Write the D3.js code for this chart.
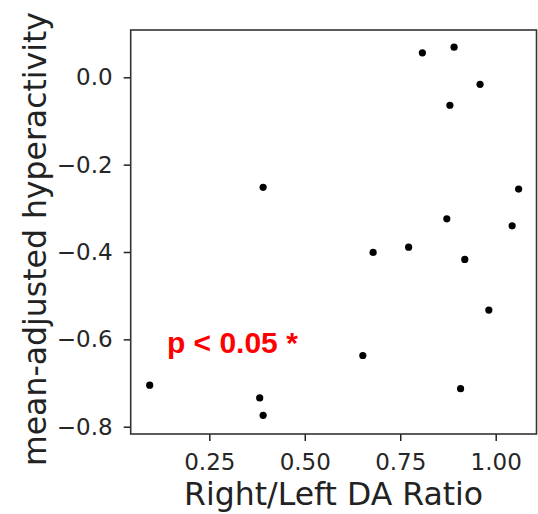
<!DOCTYPE html>
<html lang="en">
<head>
<meta charset="utf-8">
<title>Right/Left DA Ratio vs hyperactivity</title>
<script src="https://cdn.jsdelivr.net/npm/d3@7"></script>
<style>
  body { margin: 0; background: #fff; }
  text { font-family: "DejaVu Sans", sans-serif; }
</style>
</head>
<body>
<script>
// data
var ratio = [0.808, 0.891, 0.959, 0.880, 0.391, 1.060, 0.872, 1.043, 0.772,
             0.679, 0.919, 0.982, 0.652, 0.094, 0.908, 0.382, 0.391];
var hyper = [0.056, 0.069, -0.016, -0.064, -0.252, -0.256, -0.324, -0.340, -0.389,
             -0.401, -0.417, -0.533, -0.637, -0.705, -0.713, -0.734, -0.774];
var xTicks = [0.25, 0.50, 0.75, 1.00];
var yTicks = [0.0, -0.2, -0.4, -0.6, -0.8];
var note = "p < 0.05 *";

var W = 538, H = 514;
var margin = {top: 30, right: 1.5, bottom: 80, left: 130.7};
var w = W - margin.left - margin.right;
var h = H - margin.top - margin.bottom;

var svg = d3.select("body").append("svg")
    .attr("width", W)
    .attr("height", H);

var g = svg.append("g")
    .attr("transform", "translate(" + margin.left + "," + margin.top + ")");

var x = d3.scaleLinear().domain([0.0442, 1.1068]).range([0, w]);
var y = d3.scaleLinear().domain([-0.8167, 0.1083]).range([h, 0]);

var minus = function(s) { return s.replace("-", "\u2212"); };

// x axis
var xAxis = g.append("g")
    .attr("transform", "translate(0," + h + ")")
    .call(d3.axisBottom(x).tickValues(xTicks).tickFormat(d3.format(".2f"))
          .tickSize(7).tickPadding(12.5));
// y axis
var yAxis = g.append("g")
    .call(d3.axisLeft(y).tickValues(yTicks)
          .tickFormat(function(d) { return minus(d3.format(".1f")(d)); })
          .tickSize(7).tickPadding(11));

[xAxis, yAxis].forEach(function(a) {
  a.select(".domain").remove();
  a.selectAll("line").attr("stroke", "#222").attr("stroke-width", 1.5);
  a.selectAll("text").attr("fill", "#262626")
    .style("font-size", "23px").style("font-family", "DejaVu Sans");
});

// frame
g.append("rect")
    .attr("width", w).attr("height", h)
    .attr("fill", "none")
    .attr("stroke", "#333")
    .attr("stroke-width", 1.6);

// points
g.selectAll("circle.pt")
    .data(ratio)
    .enter().append("circle")
    .attr("class", "pt")
    .attr("cx", function(d) { return x(d); })
    .attr("cy", function(d, i) { return y(hyper[i]); })
    .attr("r", 3.6)
    .attr("fill", "#000");

// significance note
g.append("text")
    .attr("x", x(0.139))
    .attr("y", y(-0.631))
    .attr("fill", "#ff0000")
    .style("font-family", "Liberation Sans, Arial, sans-serif")
    .style("font-weight", "bold")
    .style("font-size", "30px")
    .text(note);

// axis labels
svg.append("text")
    .attr("x", margin.left + w / 2)
    .attr("y", 505)
    .attr("text-anchor", "middle")
    .attr("fill", "#222")
    .style("font-size", "31.5px")
    .text("Right/Left DA Ratio");

svg.append("text")
    .attr("transform", "translate(46,239) rotate(-90)")
    .attr("text-anchor", "middle")
    .attr("fill", "#222")
    .style("font-size", "31.5px")
    .text("mean-adjusted hyperactivity");
</script>
</body>
</html>
